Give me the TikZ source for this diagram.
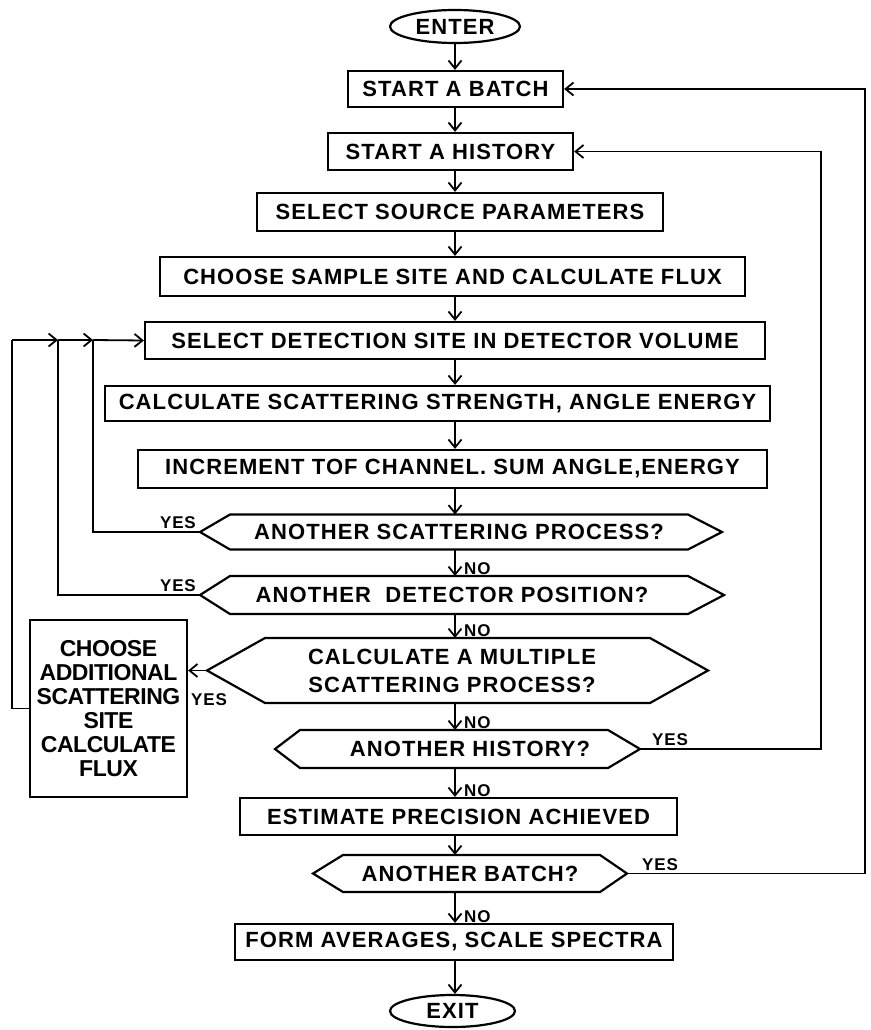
\documentclass[tikz,border=0pt]{standalone}
\usepackage{fontspec}
\setmainfont{Liberation Sans}[LetterSpace=5]
\usetikzlibrary{arrows.meta,shapes.geometric}
\newcommand\mainlbl{\fontsize{22}{28}\selectfont\bfseries}
\newcommand\smalllbl{\fontsize{17}{18}\selectfont\bfseries}
\newcommand\chooselbl{\fontsize{23}{24}\selectfont\bfseries\addfontfeature{LetterSpace=-2}}
% decision shape: name, y centre, left tip x, left flat x, right flat x, right tip x, half height, text x, text
\newcommand\decshape[9]{%
  \draw[shapeline] (#3,#2) -- (#4,#2-#7) -- (#5,#2-#7) -- (#6,#2) -- (#5,#2+#7) -- (#4,#2+#7) -- cycle;
  \coordinate (#1-w) at (#3,#2);
  \coordinate (#1-e) at (#6,#2);
  \coordinate (#1-n) at (455,#2-#7);
  \coordinate (#1-s) at (455,#2+#7);
  \node[lbl] (#1) at (#8,#2) {#9};}
\begin{document}
\begin{tikzpicture}[x=1pt,y=-1pt,
  shapeline/.style={line width=2.2pt,line join=miter},
  lbl/.style={font=\mainlbl,inner sep=0pt,align=center},
  box/.style={draw,line width=2.2pt,rectangle,inner sep=0pt,font=\mainlbl,align=center},
  term/.style={draw,line width=2.2pt,ellipse,inner sep=0pt,font=\mainlbl},
  conn/.style={line width=1.8pt},
  flow/.style={line width=1.8pt,-{Straight Barb[length=8pt,width=13pt,line width=1.8pt]}},
  yn/.style={font=\smalllbl,inner sep=0pt}]
\useasboundingbox (0,0) rectangle (870,1030);
\fill[white] (0,0) rectangle (870,1030);
\coordinate (ctr) at (455,0);
\coordinate (r1) at (821,0);
\coordinate (r2) at (865,0);
\coordinate (j0) at (12,340);
\coordinate (j2) at (58,340);
\coordinate (j1) at (93,340);

\node[term,minimum width=130pt,minimum height=33pt] (enter) at (455,26.5) {ENTER};
\node[box,minimum width=215pt,minimum height=36pt] (batch) at (455.5,89) {START A BATCH};
\node[box,minimum width=245pt,minimum height=37pt] (hist) at (450.5,151.5) {START A HISTORY};
\node[box,minimum width=406pt,minimum height=38pt] (source) at (460,212) {SELECT SOURCE PARAMETERS};
\node[box,minimum width=585pt,minimum height=39pt] (sample) at (452.5,276.5) {CHOOSE SAMPLE SITE AND CALCULATE FLUX};
\node[box,minimum width=620pt,minimum height=37pt] (detect) at (455,340.5) {SELECT DETECTION SITE IN DETECTOR VOLUME};
\node[box,minimum width=665pt,minimum height=35pt] (calcscat) at (437.5,403.5) {CALCULATE SCATTERING STRENGTH, ANGLE ENERGY};
\node[box,minimum width=629pt,minimum height=38pt] (incr) at (452.5,469) {INCREMENT TOF CHANNEL. SUM ANGLE,ENERGY};

\decshape{scat}{532}{200}{230}{688}{722}{17.5}{459}{ANOTHER SCATTERING PROCESS?}
\decshape{det}{595}{200}{230}{688}{724}{19}{452}{ANOTHER \ DETECTOR POSITION?}
\decshape{mult}{670.5}{207}{265}{650}{708}{32.5}{452}{CALCULATE A MULTIPLE\\SCATTERING PROCESS?}
\decshape{hhist}{749}{275}{300}{608}{640}{19}{470}{ANOTHER HISTORY?}
\node[box,minimum width=437pt,minimum height=37pt] (est) at (458.5,816.5) {ESTIMATE PRECISION ACHIEVED};
\decshape{bat}{873.5}{313}{343}{600}{627}{18.5}{470}{ANOTHER BATCH?}
\node[box,minimum width=438pt,minimum height=36pt] (form) at (454,942) {FORM AVERAGES, SCALE SPECTRA};
\node[term,minimum width=125pt,minimum height=32pt] (exit) at (452.5,1011) {EXIT};

\node[box,font=\chooselbl,minimum width=157pt,minimum height=177pt] (choose) at (108.5,708.5)
  {CHOOSE\\ADDITIONAL\\SCATTERING\\SITE\\CALCULATE\\FLUX};

% main flow
\draw[flow] (enter.south -| ctr) -- (batch.north -| ctr);
\draw[flow] (batch.south -| ctr) -- (hist.north -| ctr);
\draw[flow] (hist.south -| ctr) -- (source.north -| ctr);
\draw[flow] (source.south -| ctr) -- (sample.north -| ctr);
\draw[flow] (sample.south -| ctr) -- (detect.north -| ctr);
\draw[flow] (detect.south -| ctr) -- (calcscat.north -| ctr);
\draw[flow] (calcscat.south -| ctr) -- (incr.north -| ctr);
\draw[flow] (incr.south -| ctr) -- (scat-n);
\draw[flow] (scat-s) -- (det-n);
\draw[flow] (det-s) -- (mult-n);
\draw[flow] (mult-s) -- (hhist-n);
\draw[flow] (hhist-s) -- (est.north -| ctr);
\draw[flow] (est.south -| ctr) -- (bat-n);
\draw[flow] (bat-s) -- (form.north -| ctr);
\draw[flow] (form.south -| ctr) -- (exit.north -| ctr);

% NO labels
\node[yn,anchor=south west] (no1) at (464,575) {NO};
\node[yn,anchor=south west] (no2) at (464,637) {NO};
\node[yn,anchor=south west] (no3) at (464,729) {NO};
\node[yn,anchor=south west] (no4) at (464,797) {NO};
\node[yn,anchor=south west] (no5) at (464,923) {NO};

% left loops
\draw[conn] (scat-w) -| (j1);
\draw[conn] (det-w) -| (j2);
\draw[conn] (choose.west) -| (j0);
\draw[flow] (j0) -- (j2);
\draw[flow] (j2) -- (j1);
\draw[flow] (j1) -- (detect.west);
\draw[flow] (mult-w) -- (mult-w -| choose.east);
\node[yn,anchor=south east] (yes1) at (196,529) {YES};
\node[yn,anchor=south east] (yes2) at (196,592) {YES};
\node[yn,anchor=center] (yes3) at (209,700) {YES};

% right loops
\draw[flow] (hhist-e) -- (hhist-e -| r1) -- (r1 |- hist.east) -- (hist.east);
\draw[flow] (bat-e) -- (bat-e -| r2) -- (r2 |- batch.east) -- (batch.east);
\node[yn,anchor=south west] (yes4) at (652,746) {YES};
\node[yn,anchor=south west] (yes5) at (642,871) {YES};
\end{tikzpicture}
\end{document}
